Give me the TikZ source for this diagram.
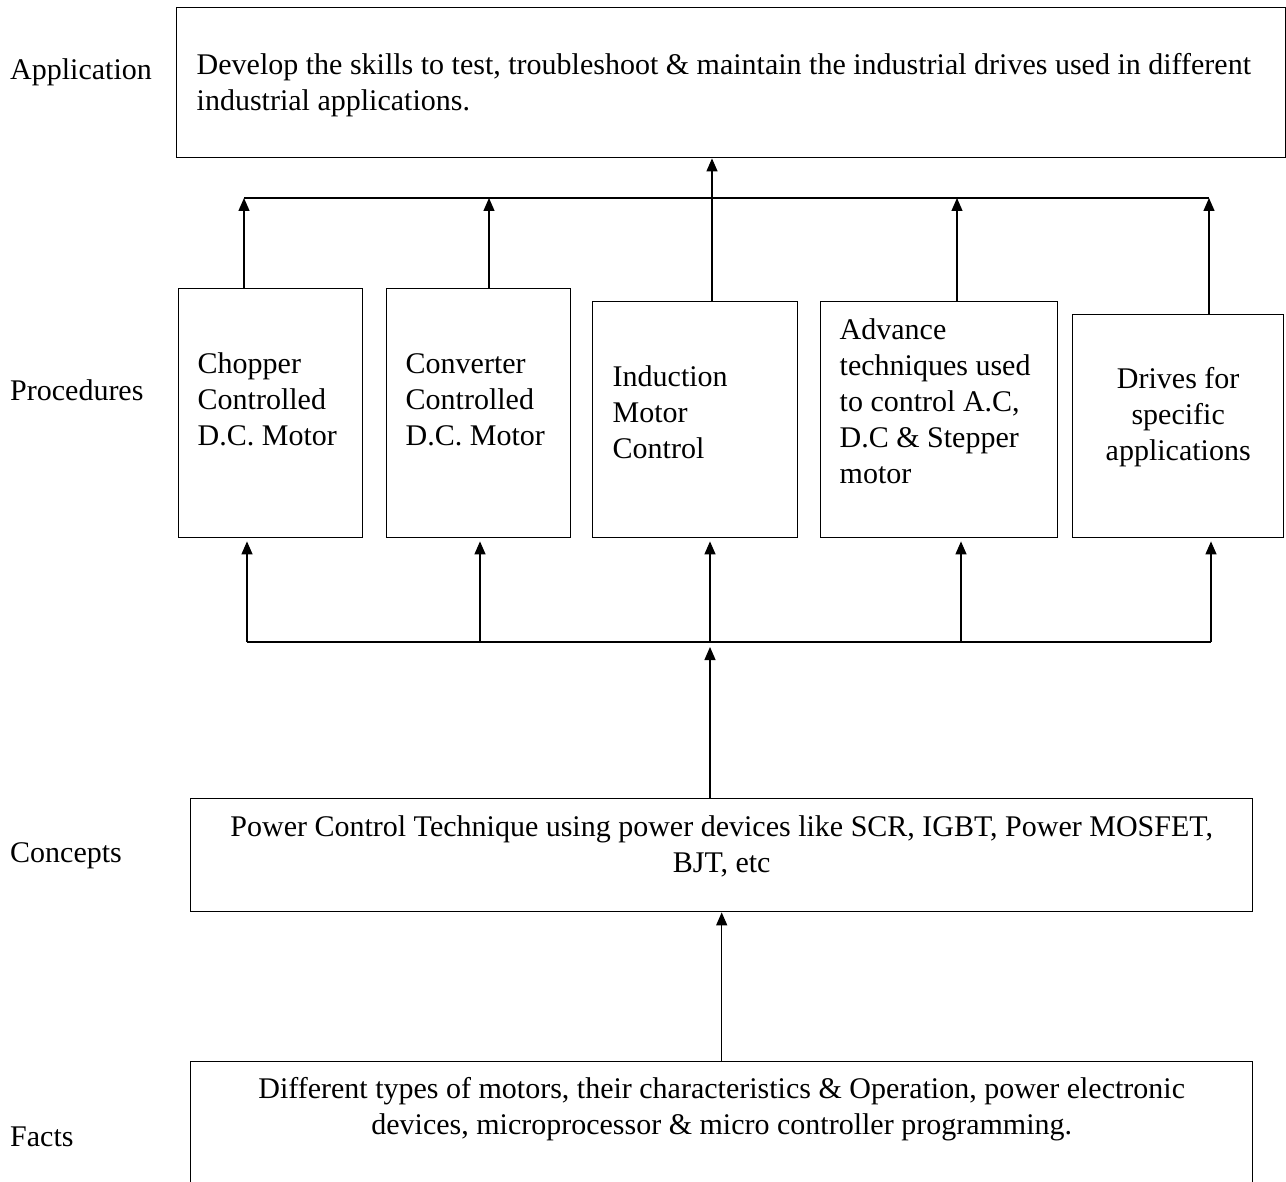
\documentclass[tikz,border=0pt]{standalone}
\usepackage{fontspec}
\setmainfont{Liberation Serif}
\usetikzlibrary{arrows.meta}

\tikzset{
  blk/.style={draw, line width=1.4pt, anchor=north west, inner ysep=0pt,
              font=\fontsize{30}{36}\selectfont},
  lbl/.style={anchor=base west, inner sep=0pt, font=\fontsize{30}{36}\selectfont},
  wire/.style={line width=1.3pt},
  flow/.style={wire, -{Triangle[length=13pt,width=11pt]}}
}

\begin{document}
\begin{tikzpicture}[x=1pt,y=-1pt]
  \useasboundingbox (0,0) rectangle (1286,1182);

  % level labels
  \node[lbl] (lapp)  at (10,80)   {Application};
  \node[lbl] (lproc) at (10,401)  {Procedures};
  \node[lbl] (lconc) at (10,862)  {Concepts};
  \node[lbl] (lfact) at (10,1146) {Facts};

  % boxes
  \node[blk, align=flush left, inner xsep=20pt, text width=1069pt,
        text height=67pt, text depth=83pt] (app) at (176,7)
    {Develop the skills to test, troubleshoot \& maintain the industrial drives used in different\\
     industrial applications.};
  \node[blk, align=flush left, inner xsep=19pt, text width=146pt,
        text height=85pt, text depth=164pt] (chop) at (178,288)
    {Chopper\\Controlled\\D.C. Motor};
  \node[blk, align=flush left, inner xsep=19pt, text width=146pt,
        text height=85pt, text depth=164pt] (conv) at (386,288)
    {Converter\\Controlled\\D.C. Motor};
  \node[blk, align=flush left, inner xsep=20pt, text width=165pt,
        text height=85pt, text depth=151pt] (ind) at (592,301)
    {Induction\\Motor\\Control};
  \node[blk, align=flush left, inner xsep=19pt, text width=199pt,
        text height=38pt, text depth=198pt] (adv) at (820,301)
    {Advance\\techniques used\\to control A.C,\\D.C \& Stepper\\motor};
  \node[blk, align=flush center, inner xsep=10pt, text width=191pt,
        text height=74pt, text depth=149pt] (drv) at (1072,314)
    {Drives for\\specific\\applications};
  \node[blk, align=flush center, inner xsep=10pt, text width=1042pt,
        text height=38pt, text depth=75pt] (conc) at (190,798)
    {Power Control Technique using power devices like SCR, IGBT, Power MOSFET,\\BJT, etc};
  \node[blk, align=flush center, inner xsep=10pt, text width=1042pt,
        text height=37pt, text depth=102pt] (facts) at (190,1061)
    {Different types of motors, their characteristics \& Operation, power electronic\\
     devices, microprocessor \& micro controller programming.};

  % buses
  \coordinate (ubus) at (0,198);
  \coordinate (lbus) at (0,642);
  \draw[wire] (244,0 |- ubus) -- (1209,0 |- ubus);
  \draw[wire] (247,0 |- lbus) -- (1211,0 |- lbus);

  % connectors
  \foreach \b/\x in {chop/244,conv/489,adv/957,drv/1209}
    \draw[flow] (\b.north -| \x,0) -- (\x,0 |- ubus);
  \draw[flow] (ind.north -| 712,0) -- (712,0 |- app.south);
  \foreach \b/\x in {chop/247,conv/480,ind/710,adv/961,drv/1211}
    \draw[flow, shorten >=3pt] (\x,0 |- lbus) -- (\b.south -| \x,0);
  \draw[flow, shorten >=5pt] (conc.north -| 710,0) -- (710,0 |- lbus);
  \draw[flow] (facts.north) -- (conc.south);
\end{tikzpicture}
\end{document}
